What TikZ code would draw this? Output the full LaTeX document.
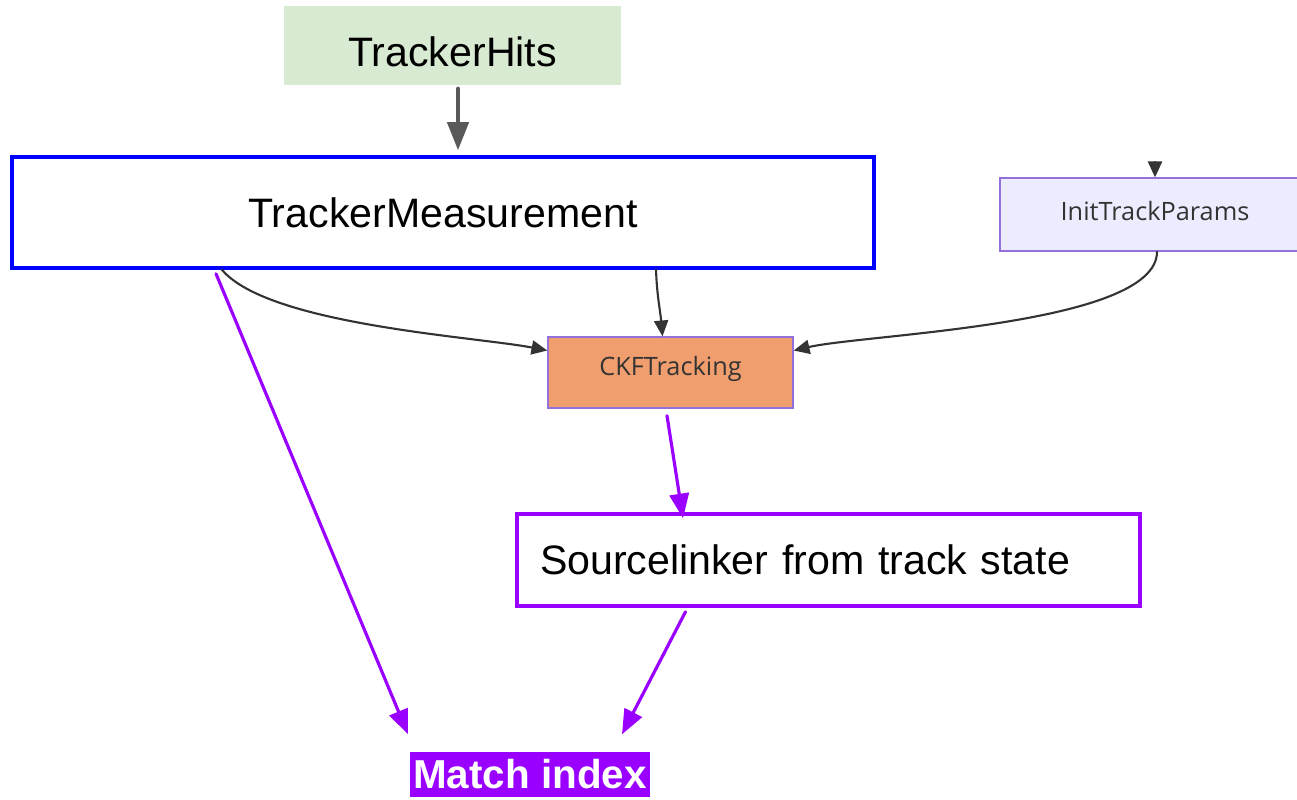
\documentclass[tikz,border=0pt]{standalone}
\usepackage{fontspec}
\setmainfont{Liberation Sans}
\newfontfamily\mermaidfont{Open Sans}
\usepackage{tikz}
\usetikzlibrary{arrows.meta}
\usetikzlibrary{shapes,positioning}

\definecolor{hitsgreen}{HTML}{D9EAD3}
\definecolor{measblue}{HTML}{0000FF}
\definecolor{initfill}{HTML}{ECECFF}
\definecolor{initline}{HTML}{9370DB}
\definecolor{ckffill}{HTML}{F09E6E}
\definecolor{linkpurple}{HTML}{9900FF}
\definecolor{arrowgray}{HTML}{595959}
\definecolor{textgray}{HTML}{333333}

\tikzset{
  bigbox/.style={rectangle,font=\fontsize{11.7}{14}\selectfont,inner sep=0pt},
  smallbox/.style={rectangle,font=\mermaidfont\fontsize{7.2}{9}\selectfont,
    text=textgray,inner sep=0pt},
  flow/.style={textgray,line width=0.6pt,-{Triangle[length=4.5pt,width=4pt]}},
  link/.style={linkpurple,line width=0.9pt,-{Triangle[length=7pt,width=5.5pt]}}
}

\begin{document}
\begin{tikzpicture}[line cap=round]

  \useasboundingbox (0,0) rectangle (12.97,-7.99);

  % boxes
  \node [bigbox,fill=hitsgreen,minimum width=3.37cm,minimum height=0.79cm]
    (hits) at (4.525,-0.455) {\raisebox{-0.06cm}[\height][\depth]{TrackerHits}};
  \node [bigbox,draw=measblue,line width=1pt,minimum width=8.62cm,minimum height=1.11cm]
    (meas) at (4.43,-2.125) {TrackerMeasurement};
  \node [smallbox,fill=initfill,draw=initline,line width=0.4pt,
    minimum width=3.0cm,minimum height=0.73cm] (init) at (11.5,-2.145)
    {\raisebox{0.04cm}[\height][\depth]{\hspace*{0.1cm}InitTrackParams}};
  \node [smallbox,fill=ckffill,draw=initline,line width=0.4pt,
    minimum width=2.45cm,minimum height=0.71cm] (ckf) at (6.705,-3.725)
    {\raisebox{0.04cm}[\height][\depth]{CKFTracking}};
  \node [bigbox,draw=linkpurple,line width=1pt,inner xsep=0.23cm,text width=5.77cm,
    align=left,minimum height=0.92cm] (src) at (8.285,-5.6) {Sourcelinker from track state};
  \node [bigbox,fill=linkpurple,text=white,font=\bfseries\fontsize{11.5}{13}\selectfont,
    minimum width=2.4cm,minimum height=0.45cm] (match) at (5.3,-7.745) {Match index};

  \coordinate (above) at (11.55,-1.62);

  % connectors
  \draw [arrowgray,line width=1.2pt,-{Triangle[length=8pt,width=6pt]}]
    ([xshift=0.055cm,yshift=-0.03cm]hits.south) -- ([xshift=0.15cm,yshift=0.05cm]meas.north);

  \draw [flow] ([xshift=-2.21cm]meas.south) to[out=-50,in=169,looseness=0.55]
    ([yshift=0.22cm]ckf.west);
  \draw [flow] ([xshift=2.13cm]meas.south) to[out=-88,in=95]
    ([xshift=-0.08cm]ckf.north);
  \draw [flow] ([xshift=0.07cm]init.south) to[out=-90,in=13,looseness=0.5]
    ([yshift=0.22cm]ckf.east);
  \draw [flow] (above) -- ([xshift=0.05cm]init.north);

  \draw [link] ([xshift=-2.27cm,yshift=-0.04cm]meas.south) --
    ([xshift=-1.22cm,yshift=0.17cm]match.north);
  \draw [link] ([xshift=-0.035cm,yshift=-0.07cm]ckf.south) --
    ([xshift=-1.455cm,yshift=-0.06cm]src.north);
  \draw [link] ([xshift=-1.43cm,yshift=-0.04cm]src.south) --
    ([xshift=0.92cm,yshift=0.17cm]match.north);

\end{tikzpicture}
\end{document}
